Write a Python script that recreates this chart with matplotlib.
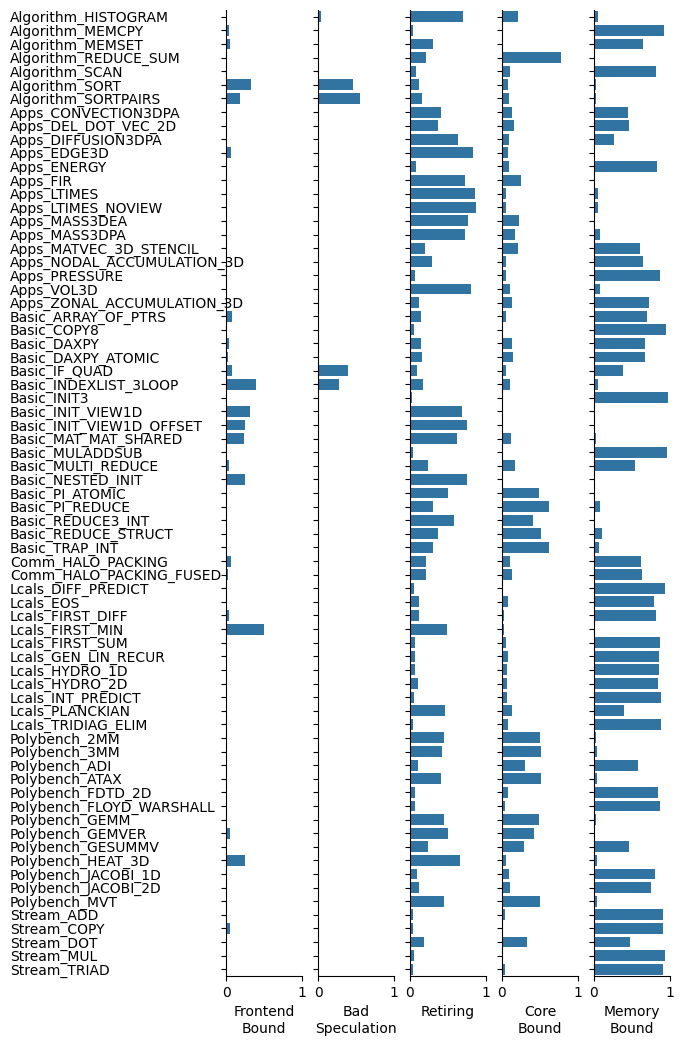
import matplotlib
matplotlib.use("Agg")
import matplotlib.pyplot as plt
import numpy as np

kernels = [
    "Algorithm_HISTOGRAM", "Algorithm_MEMCPY", "Algorithm_MEMSET", "Algorithm_REDUCE_SUM",
    "Algorithm_SCAN", "Algorithm_SORT", "Algorithm_SORTPAIRS", "Apps_CONVECTION3DPA",
    "Apps_DEL_DOT_VEC_2D", "Apps_DIFFUSION3DPA", "Apps_EDGE3D", "Apps_ENERGY", "Apps_FIR",
    "Apps_LTIMES", "Apps_LTIMES_NOVIEW", "Apps_MASS3DEA", "Apps_MASS3DPA",
    "Apps_MATVEC_3D_STENCIL", "Apps_NODAL_ACCUMULATION_3D", "Apps_PRESSURE", "Apps_VOL3D",
    "Apps_ZONAL_ACCUMULATION_3D", "Basic_ARRAY_OF_PTRS", "Basic_COPY8", "Basic_DAXPY",
    "Basic_DAXPY_ATOMIC", "Basic_IF_QUAD", "Basic_INDEXLIST_3LOOP", "Basic_INIT3",
    "Basic_INIT_VIEW1D", "Basic_INIT_VIEW1D_OFFSET", "Basic_MAT_MAT_SHARED", "Basic_MULADDSUB",
    "Basic_MULTI_REDUCE", "Basic_NESTED_INIT", "Basic_PI_ATOMIC", "Basic_PI_REDUCE",
    "Basic_REDUCE3_INT", "Basic_REDUCE_STRUCT", "Basic_TRAP_INT", "Comm_HALO_PACKING",
    "Comm_HALO_PACKING_FUSED", "Lcals_DIFF_PREDICT", "Lcals_EOS", "Lcals_FIRST_DIFF",
    "Lcals_FIRST_MIN", "Lcals_FIRST_SUM", "Lcals_GEN_LIN_RECUR", "Lcals_HYDRO_1D",
    "Lcals_HYDRO_2D", "Lcals_INT_PREDICT", "Lcals_PLANCKIAN", "Lcals_TRIDIAG_ELIM",
    "Polybench_2MM", "Polybench_3MM", "Polybench_ADI", "Polybench_ATAX", "Polybench_FDTD_2D",
    "Polybench_FLOYD_WARSHALL", "Polybench_GEMM", "Polybench_GEMVER", "Polybench_GESUMMV",
    "Polybench_HEAT_3D", "Polybench_JACOBI_1D", "Polybench_JACOBI_2D", "Polybench_MVT",
    "Stream_ADD", "Stream_COPY", "Stream_DOT", "Stream_MUL", "Stream_TRIAD",
]

frontend = [
    0, 0.035, 0.048, 0, 0, 0.325, 0.18, 0, 0, 0, 0.061, 0, 0, 0.018, 0, 0, 0.013, 0, 0, 0, 0, 0,
    0.083, 0, 0.035, 0.022, 0.075, 0.39, 0, 0.31, 0.245, 0.232, 0, 0.035, 0.245, 0, 0, 0, 0, 0,
    0.061, 0.022, 0, 0, 0.035, 0.496, 0, 0, 0, 0, 0, 0, 0, 0.018, 0.018, 0, 0.018, 0, 0.018,
    0.018, 0.048, 0, 0.245, 0, 0, 0, 0, 0.048, 0, 0, 0,
]

bad_spec = [
    0.035, 0, 0, 0, 0, 0.456, 0.548, 0, 0, 0, 0, 0, 0, 0, 0, 0, 0, 0, 0, 0, 0, 0,
    0, 0, 0, 0, 0.39, 0.272, 0, 0, 0, 0, 0, 0, 0, 0, 0, 0, 0, 0,
    0, 0, 0, 0, 0, 0, 0, 0, 0, 0, 0, 0, 0, 0, 0, 0, 0, 0, 0,
    0, 0, 0, 0, 0, 0, 0, 0, 0, 0, 0, 0,
]

retiring = [
    0.693, 0.035, 0.298, 0.206, 0.075, 0.114, 0.154, 0.404, 0.364, 0.627, 0.825, 0.075, 0.719,
    0.851, 0.864, 0.759, 0.719, 0.193, 0.285, 0.061, 0.798, 0.114, 0.14, 0.048, 0.14, 0.154,
    0.088, 0.167, 0.022, 0.68, 0.746, 0.614, 0.035, 0.232, 0.746, 0.496, 0.298, 0.575, 0.364,
    0.298, 0.206, 0.206, 0.048, 0.114, 0.114, 0.482, 0.061, 0.061, 0.061, 0.10, 0.048, 0.456,
    0.035, 0.443, 0.417, 0.10, 0.404, 0.061, 0.061, 0.443, 0.496, 0.232, 0.654, 0.088, 0.114,
    0.443, 0.035, 0.035, 0.18, 0.048, 0.035,
]

core = [
    0.206, 0, 0, 0.772, 0.10, 0.075, 0.088, 0.127, 0.154, 0.088, 0.075, 0.088, 0.246, 0.048,
    0.048, 0.219, 0.167, 0.206, 0.048, 0.048, 0.10, 0.127, 0.048, 0, 0.127, 0.14, 0.048, 0.10,
    0, 0, 0, 0.114, 0, 0.167, 0, 0.482, 0.614, 0.404, 0.509, 0.614, 0.10, 0.127, 0, 0.075,
    0.022, 0.022, 0.048, 0.075, 0.061, 0.061, 0.061, 0.127, 0.075, 0.496, 0.509, 0.298, 0.509,
    0.075, 0.035, 0.482, 0.417, 0.285, 0.048, 0.088, 0.10, 0.496, 0.035, 0, 0.325, 0, 0.035,
]

memory = [
    0.048, 0.917, 0.64, 0, 0.811, 0.022, 0.022, 0.443, 0.456, 0.259, 0, 0.825, 0, 0.048, 0.048,
    0, 0.075, 0.60, 0.64, 0.864, 0.075, 0.728, 0.693, 0.943, 0.667, 0.667, 0.377, 0.048, 0.969,
    0, 0, 0.022, 0.956, 0.535, 0, 0, 0.075, 0, 0.10, 0.061, 0.614, 0.627, 0.93, 0.785, 0.811,
    0, 0.864, 0.851, 0.851, 0.838, 0.877, 0.39, 0.877, 0.022, 0.035, 0.575, 0.035, 0.838,
    0.864, 0.022, 0, 0.456, 0.035, 0.798, 0.746, 0.035, 0.904, 0.904, 0.469, 0.93, 0.904,
]

metrics = [
    ("Frontend\nBound", frontend),
    ("Bad\nSpeculation", bad_spec),
    ("Retiring", retiring),
    ("Core\nBound", core),
    ("Memory\nBound", memory),
]

fig, axes = plt.subplots(1, 5, sharey=True, figsize=(6.85, 10.45), dpi=100)
fig.subplots_adjust(left=0.33, right=0.978, bottom=0.066, top=0.9904, wspace=0.21)

y = np.arange(len(kernels))
for ax, (label, values) in zip(axes, metrics):
    ax.barh(y, values, height=0.8, color="#3274a1")
    ax.set_xlim(0, 1)
    ax.set_xticks([0, 1])
    ax.set_xlabel(label)
    ax.spines["top"].set_visible(False)
    ax.spines["right"].set_visible(False)

axes[0].set_yticks(y)
axes[0].set_yticklabels(kernels, ha="left")
axes[0].tick_params(axis="y", pad=152)
axes[0].set_ylim(len(kernels) - 0.5, -0.5)

fig.savefig("out.png")
